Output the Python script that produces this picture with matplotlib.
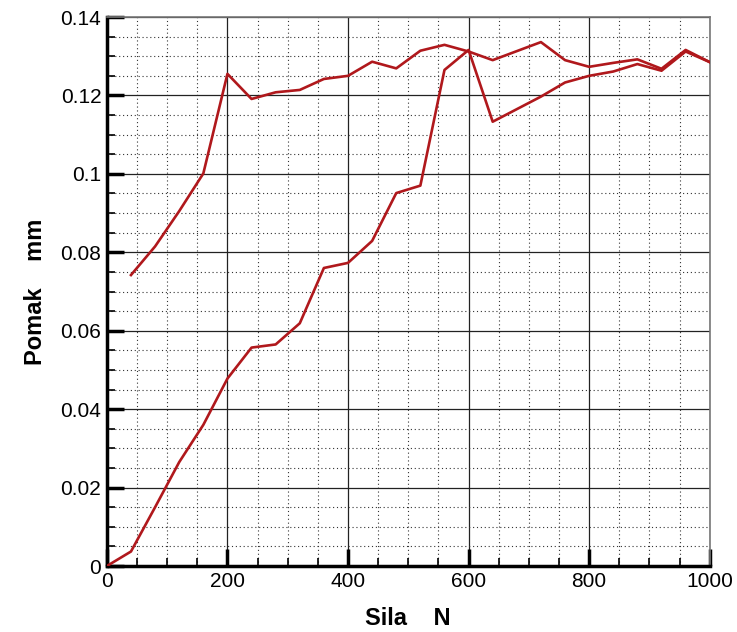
import numpy as np
import matplotlib
matplotlib.use("Agg")
import matplotlib.pyplot as plt
from matplotlib.ticker import MultipleLocator, FuncFormatter

plt.rcParams["font.family"] = ["Liberation Sans", "DejaVu Sans"]

# opterecenje (donja krivulja), 0 -> 1000 N
sila_opt = [0, 40, 80, 120, 160, 200, 240, 280, 320, 360, 400, 440, 480, 520,
            560, 600, 640, 680, 720, 760, 800, 840, 880, 920, 960, 1000]
pomak_opt = [0.0, 0.0037, 0.0150, 0.0265, 0.0360, 0.0478, 0.0557, 0.0565,
             0.0619, 0.0760, 0.0773, 0.0829, 0.0951, 0.0970, 0.1265, 0.1316,
             0.1133, 0.1165, 0.1197, 0.1233, 0.1250, 0.1261, 0.1280, 0.1263,
             0.1312, 0.1285]

# rasterecenje (gornja krivulja), 1000 -> 40 N
sila_ras = [1000, 960, 920, 880, 840, 800, 760, 720, 680, 640, 600, 560, 520,
            480, 440, 400, 360, 320, 280, 240, 200, 160, 120, 80, 40]
pomak_ras = [0.1285, 0.1316, 0.1268, 0.1292, 0.1283, 0.1273, 0.1290, 0.1336,
             0.1313, 0.1290, 0.1312, 0.1329, 0.1314, 0.1269, 0.1286, 0.1250,
             0.1242, 0.1214, 0.1208, 0.1191, 0.1255, 0.1001, 0.0905, 0.0815,
             0.0742]

fig = plt.figure(figsize=(7.37, 6.32), dpi=100)
ax = fig.add_axes([0.145, 0.1044, 0.818, 0.8687])

col = "#b0181c"
ax.plot(sila_opt, pomak_opt, color=col, lw=1.9, zorder=5)
ax.plot(sila_ras, pomak_ras, color=col, lw=1.9, zorder=5)

ax.set_xlim(0, 1000)
ax.set_ylim(0, 0.14)
ax.xaxis.set_major_locator(MultipleLocator(200))
ax.xaxis.set_minor_locator(MultipleLocator(50))
ax.yaxis.set_major_locator(MultipleLocator(0.02))
ax.yaxis.set_minor_locator(MultipleLocator(0.005))
ax.yaxis.set_major_formatter(FuncFormatter(
    lambda v, p: "0" if abs(v) < 1e-9 else f"{v:g}"))

ax.grid(which="major", color="#222222", lw=0.9, ls="-")
ax.grid(which="minor", color="#333333", lw=0.8, ls=(0, (1, 2.5)))
ax.set_axisbelow(True)

ax.tick_params(which="major", direction="in", length=12, width=2.5,
               labelsize=15, top=False, right=False, pad=4)
ax.tick_params(which="minor", direction="in", length=6, width=1.2,
               top=False, right=False)

for s in ["left", "bottom"]:
    ax.spines[s].set_linewidth(2.5)
    ax.spines[s].set_color("black")
for s in ["top", "right"]:
    ax.spines[s].set_linewidth(1.2)
    ax.spines[s].set_color("#777777")

ax.set_xlabel("Sila    N", fontsize=17, fontweight="bold", labelpad=12)
ax.set_ylabel("Pomak    mm", fontsize=17, fontweight="bold", labelpad=10)

fig.savefig("out.png", dpi=100)
